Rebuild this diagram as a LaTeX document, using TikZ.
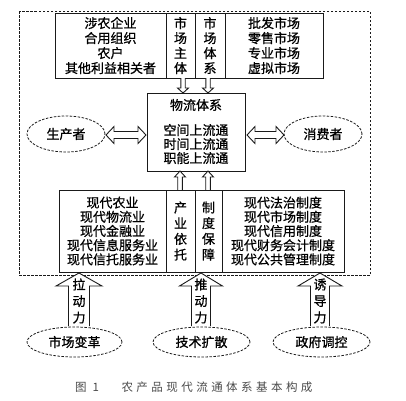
\documentclass[tikz,border=0pt]{standalone}
\usepackage{fontspec}
\setmainfont{Noto Sans CJK SC}[FakeBold=0.8]
\newfontfamily\capfont[LetterSpace=30]{Noto Sans CJK SC}
\usetikzlibrary{shapes.geometric}
\definecolor{lnDark}{HTML}{1A1A1A}
\definecolor{capGray}{HTML}{4A4A4A}
% hollow vertical block arrow: x, tail y, head base y, tip y, shaft half, head half
\newcommand{\vblock}[6]{\draw[blockline] ({#1-#5},#2) -- ({#1-#5},#3) -- ({#1-#6},#3) -- (#1,#4) -- ({#1+#6},#3) -- ({#1+#5},#3) -- ({#1+#5},#2);}
% hollow two-headed horizontal arrow: x1, x2, y, shaft half, head half, head length
\newcommand{\hblock}[6]{\draw[blockline] (#1,#3) -- ({#1+#6},{#3-#5}) -- ({#1+#6},{#3-#4}) -- ({#2-#6},{#3-#4}) -- ({#2-#6},{#3-#5}) -- (#2,#3) -- ({#2-#6},{#3+#5}) -- ({#2-#6},{#3+#4}) -- ({#1+#6},{#3+#4}) -- ({#1+#6},{#3+#5}) -- cycle;}

\begin{document}
\begin{tikzpicture}[x=1pt,y=-1pt,
  box/.style={draw=lnDark,line width=0.9pt,inner sep=0pt,align=center,font=\fontsize{13}{15}\selectfont},
  lowbox/.style={box,font=\fontsize{13}{14.2}\selectfont},
  vtext/.style={box,font=\fontsize{13}{15.7}\selectfont},
  label/.style={inner sep=0pt,align=center,font=\fontsize{13}{14}\selectfont},
  cloudy/.style={ellipse,draw=lnDark,line width=0.8pt,dash pattern=on 2.5pt off 1.5pt,inner sep=0pt,font=\fontsize{13}{15}\selectfont},
  blockline/.style={draw=lnDark,line width=0.9pt,fill=white,line join=miter}]
  \useasboundingbox (0,0) rectangle (406,400);
  % system frame
  \draw[lnDark,line width=0.8pt,dash pattern=on 2.5pt off 1.5pt] (19,11) rectangle (370,275);
  % market actors and market system
  \node[box,minimum width=111,minimum height=65] (actors) at (110.5,45.5) {涉农企业\\合用组织\\农户\\其他利益相关者};
  \node[box,minimum width=29,minimum height=65] (subject) at (180.5,45.5) {市\\场\\主\\体};
  \node[box,minimum width=30,minimum height=65] (system) at (210,45.5) {市\\场\\体\\系};
  \node[box,minimum width=98,minimum height=65] (markets) at (274,45.5) {批发市场\\零售市场\\专业市场\\虚拟市场};
  \vblock{183}{78}{88}{93}{2.2}{5.5}
  \vblock{208}{78}{88}{93}{2.2}{5.5}
  % logistics core
  \node[box,minimum width=98,minimum height=78] (flow) at (196,132) {};
  \node[label] (flowhead) at (196,105) {物流体系};
  \node[label] (flowbody) at (196,144) {空间上流通\\时间上流通\\职能上流通};
  \node[cloudy,minimum width=78,minimum height=36] (producer) at (66,134) {生产者};
  \node[cloudy,minimum width=78,minimum height=36] (consumer) at (323,134) {消费者};
  \hblock{106}{146}{135}{3.5}{8.5}{8}
  \hblock{247}{284}{135}{3.5}{8.5}{8}
  % industry support and institutions
  \vblock{180}{190}{177}{171}{2.3}{5.5}
  \vblock{208}{190}{177}{171}{2.3}{5.5}
  \node[lowbox,minimum width=107,minimum height=82] (sectors) at (112.5,231) {现代农业\\现代物流业\\现代金融业\\现代信息服务业\\现代信托服务业};
  \node[vtext,minimum width=29,minimum height=82] (industry) at (180.5,231) {产\\业\\依\\托};
  \node[vtext,minimum width=27,minimum height=82] (institution) at (208.5,231) {制\\度\\保\\障};
  \node[lowbox,minimum width=122,minimum height=82] (rules) at (283,231) {现代法治制度\\现代市场制度\\现代信用制度\\现代财务会计制度\\现代公共管理制度};
  % driving forces
  \vblock{79}{326}{286}{273}{10.5}{23}
  \vblock{201}{326}{286}{273}{9.5}{21.5}
  \vblock{320}{326}{286}{273}{9.5}{22}
  \node[label,font=\fontsize{13}{16.5}\selectfont] (pull) at (79,301) {拉\\动\\力};
  \node[label,font=\fontsize{13}{16.5}\selectfont] (push) at (201,301) {推\\动\\力};
  \node[label,font=\fontsize{13}{16.5}\selectfont] (guide) at (320,301) {诱\\导\\力};
  \node[cloudy,minimum width=95,minimum height=30] (reform) at (74.5,342) {市场变革};
  \node[cloudy,minimum width=97,minimum height=30] (diffusion) at (201.5,342) {技术扩散};
  \node[cloudy,minimum width=97,minimum height=30] (control) at (321.5,342) {政府调控};
  % caption
  \node[inner sep=0pt,capGray,font=\fontsize{11.5}{12}\selectfont\capfont] (fignum) at (87,387) {图 1};
  \node[inner sep=0pt,capGray,font=\fontsize{11.5}{12}\selectfont\capfont] (figtitle) at (217,387) {农产品现代流通体系基本构成};
\end{tikzpicture}
\end{document}
